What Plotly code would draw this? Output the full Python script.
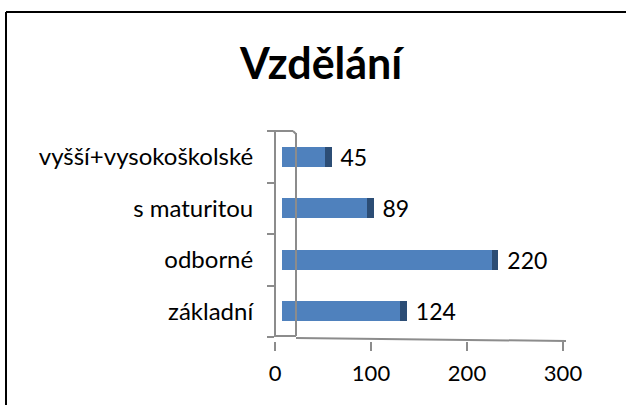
import plotly.graph_objects as go

# ---- data ----
categories = ["základní", "odborné", "s maturitou", "vyšší+vysokoškolské"]
values = [124, 220, 89, 45]
x_ticks = [0, 100, 200, 300]
title_text = "Vzdělání"

# ---- style ----
W, H = 626, 405
FONT = "Lato"
FRONT = "#4F81BD"
SIDE = "#2C4D75"
AXIS = "#8C8C8C"
DEPTH = 7  # visual 3D depth of bar ends (in value units)


def px(x):
    return x / W


def py(y):
    return 1 - y / H


fig = go.Figure()
fig.add_trace(go.Bar(
    y=categories, x=values, orientation="h",
    marker=dict(color=FRONT, line=dict(width=0)),
    width=0.39, hoverinfo="skip", showlegend=False,
))
fig.add_trace(go.Bar(
    y=categories, x=[DEPTH] * len(values), orientation="h",
    marker=dict(color=SIDE, line=dict(width=0)),
    width=0.39, text=[str(v) for v in values], texttemplate=" %{text}",
    textposition="outside", constraintext="none",
    textfont=dict(family=FONT, size=23, color="black"),
    cliponaxis=False, hoverinfo="skip", showlegend=False,
))
# invisible helper so the front (projected) value axis is drawn
fig.add_trace(go.Scatter(
    x=x_ticks, y=[categories[0]] * len(x_ticks), xaxis="x2", mode="markers",
    marker=dict(opacity=0), hoverinfo="skip", showlegend=False,
))

shapes = [
    # outer border (top and left edges visible in the frame)
    dict(type="line", xref="paper", yref="paper", x0=px(6), x1=1, y0=py(12), y1=py(12),
         line=dict(color="black", width=2)),
    dict(type="line", xref="paper", yref="paper", x0=px(6), x1=px(6), y0=0, y1=py(12),
         line=dict(color="black", width=2)),
    # back wall vertical
    dict(type="line", xref="paper", yref="paper", x0=px(296), x1=px(296), y0=py(336), y1=py(133),
         line=dict(color=AXIS, width=2)),
    # top edge
    dict(type="line", xref="paper", yref="paper", x0=px(268), x1=px(293), y0=py(131), y1=py(131),
         line=dict(color=AXIS, width=2)),
    dict(type="line", xref="paper", yref="paper", x0=px(293), x1=px(296), y0=py(131), y1=py(134),
         line=dict(color=AXIS, width=2)),
    # floor
    dict(type="line", xref="paper", yref="paper", x0=px(275), x1=px(296), y0=py(336), y1=py(336),
         line=dict(color=AXIS, width=2)),
    dict(type="line", xref="paper", yref="paper", x0=px(296), x1=px(566), y0=py(338), y1=py(341),
         line=dict(color=AXIS, width=2)),
]

fig.update_layout(
    width=W, height=H, autosize=False,
    margin=dict(l=0, r=0, t=0, b=0, pad=0, autoexpand=False),
    paper_bgcolor="white", plot_bgcolor="rgba(0,0,0,0)",
    barmode="stack", bargap=0.6,
    font=dict(family=FONT, size=22, color="black"),
    shapes=shapes,
    annotations=[dict(text="<b>" + title_text + "</b>", xref="paper", yref="paper",
                      x=px(322), y=py(62), xanchor="center", yanchor="middle",
                      showarrow=False, font=dict(family=FONT, size=43, color="black"))],
    xaxis=dict(domain=[px(282), px(568)], range=[0, 300], visible=False, fixedrange=True,
               automargin=False),
    xaxis2=dict(domain=[px(275), px(563)], range=[0, 300],
                anchor="free", position=py(341), automargin=False,
                tickmode="array", tickvals=x_ticks, ticktext=[str(t) for t in x_ticks],
                ticks="outside", ticklen=9, tickwidth=2, tickcolor=AXIS,
                showline=False, showgrid=False, zeroline=False,
                ticklabelstandoff=4,
                tickfont=dict(family=FONT, size=22, color="black")),
    yaxis=dict(domain=[py(337), py(131)], range=[-0.5, 3.5], automargin=False,
               type="category", categoryorder="array", categoryarray=categories,
               anchor="free", position=px(275),
               showline=True, linecolor=AXIS, linewidth=2,
               ticks="outside", tickson="boundaries", ticklen=7, tickwidth=2, tickcolor=AXIS,
               ticklabelstandoff=16,
               showgrid=False, zeroline=False,
               tickfont=dict(family=FONT, size=24, color="black")),
)

post = (
    "document.documentElement.style.overflow='hidden';"
    "document.body.style.margin='0';"
)

fig.write_html(
    "out.html",
    config={"displayModeBar": False, "responsive": False},
    post_script=post,
)
